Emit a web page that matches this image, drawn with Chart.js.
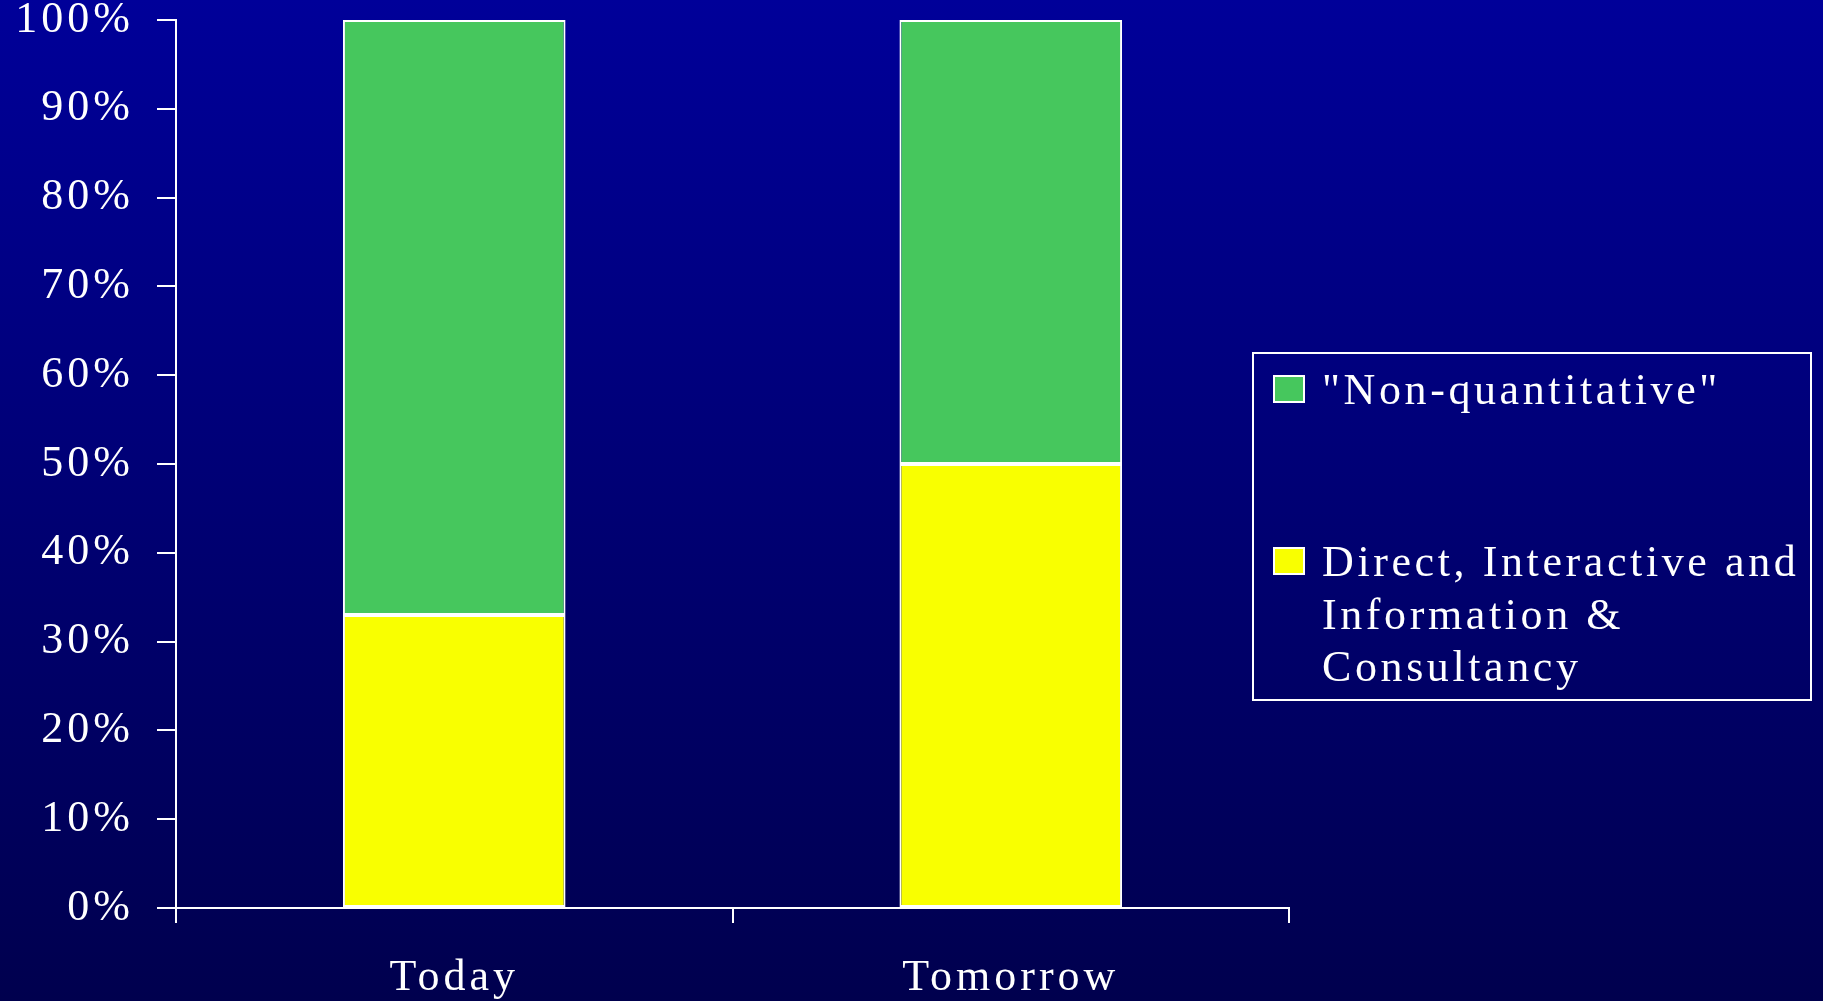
<!DOCTYPE html>
<html>
<head>
<meta charset="utf-8">
<script src="https://cdn.jsdelivr.net/npm/chart.js@4/dist/chart.umd.min.js"></script>
<style>
  html, body { margin: 0; padding: 0; }
  body {
    width: 1823px; height: 1001px; overflow: hidden;
    background: linear-gradient(to bottom, #000099 0%, #000070 55%, #00004E 100%);
  }
  canvas { display: block; }
</style>
</head>
<body>
<canvas id="chart" width="1823" height="1001"></canvas>
<script>
// Categories and stacked shares (percent)
const categories = ['Today', 'Tomorrow'];
const directShare = [33, 50];
const nonQuantShare = [67, 50];
const seriesNames = ['Direct, Interactive and Information & Consultancy', '"Non-quantitative"'];
// Legend rows, top to bottom, with the wrapped text lines of each entry
const legendLines = [
  ['"Non-quantitative"'],
  ['Direct, Interactive and', 'Information &', 'Consultancy']
];
const yTicks = [0, 10, 20, 30, 40, 50, 60, 70, 80, 90, 100];

const GREEN = '#46C75D';
const YELLOW = '#F9FF00';
const SERIF = '"Liberation Serif", "Times New Roman", serif';
const SPACING = '4px';

// Widen letter spacing for all canvas text to suit the wide serif look
const spacingPlugin = {
  id: 'spacing',
  beforeDraw(chart) { chart.ctx.letterSpacing = SPACING; }
};

// Boxed legend on the right side
const boxLegend = {
  id: 'boxLegend',
  afterDraw(chart) {
    const ctx = chart.ctx;
    ctx.save();
    ctx.letterSpacing = '3.6px';
    ctx.strokeStyle = '#FFFFFF';
    ctx.lineWidth = 2;
    ctx.strokeRect(1253, 353, 558, 347);
    const rows = [
      { color: GREEN, sw: 376, lines: legendLines[0], base: 404 },
      { color: YELLOW, sw: 548, lines: legendLines[1], base: 576 }
    ];
    ctx.font = '44px ' + SERIF;
    ctx.textBaseline = 'alphabetic';
    ctx.textAlign = 'left';
    rows.forEach(r => {
      ctx.fillStyle = r.color;
      ctx.fillRect(1274, r.sw, 30, 26);
      ctx.strokeStyle = '#FFFFFF';
      ctx.lineWidth = 2;
      ctx.strokeRect(1274, r.sw, 30, 26);
      ctx.fillStyle = '#FFFFFF';
      r.lines.forEach((t, i) => ctx.fillText(t, 1322, r.base + i * 52.5));
    });
    ctx.restore();
  }
};

new Chart(document.getElementById('chart'), {
  type: 'bar',
  data: {
    labels: categories,
    datasets: [
      {
        label: seriesNames[0],
        data: directShare,
        backgroundColor: YELLOW,
        borderColor: '#FFFFFF',
        borderWidth: 2,
        borderSkipped: false,
        barPercentage: 0.4,
        categoryPercentage: 1
      },
      {
        label: seriesNames[1],
        data: nonQuantShare,
        backgroundColor: GREEN,
        borderColor: '#FFFFFF',
        borderWidth: 2,
        borderSkipped: false,
        barPercentage: 0.4,
        categoryPercentage: 1
      }
    ]
  },
  options: {
    responsive: false,
    animation: false,
    layout: { padding: { top: 20, right: 534, left: 0, bottom: 0 } },
    plugins: {
      legend: { display: false },
      tooltip: { enabled: false }
    },
    scales: {
      x: {
        stacked: true,
        afterFit(s) { s.height = 93; s.paddingLeft = 0; s.paddingRight = 0; },
        grid: {
          offset: true,
          drawOnChartArea: false,
          drawTicks: true,
          tickLength: 15,
          color: '#FFFFFF',
          lineWidth: 2
        },
        border: { display: true, color: '#FFFFFF', width: 2 },
        ticks: {
          color: '#FFFFFF',
          font: { family: SERIF, size: 44 },
          padding: 29,
          maxRotation: 0
        }
      },
      y: {
        stacked: true,
        min: 0,
        max: 100,
        afterFit(s) { s.width = 176; s.paddingTop = 0; s.paddingBottom = 0; },
        afterBuildTicks(s) { s.ticks = yTicks.map(v => ({ value: v })); },
        grid: {
          drawOnChartArea: false,
          drawTicks: true,
          tickLength: 19,
          color: '#FFFFFF',
          lineWidth: 2
        },
        border: { display: true, color: '#FFFFFF', width: 2 },
        ticks: {
          color: '#FFFFFF',
          font: { family: SERIF, size: 44 },
          padding: 23,
          callback: v => v + '%'
        }
      }
    }
  },
  plugins: [spacingPlugin, boxLegend]
});
</script>
</body>
</html>
